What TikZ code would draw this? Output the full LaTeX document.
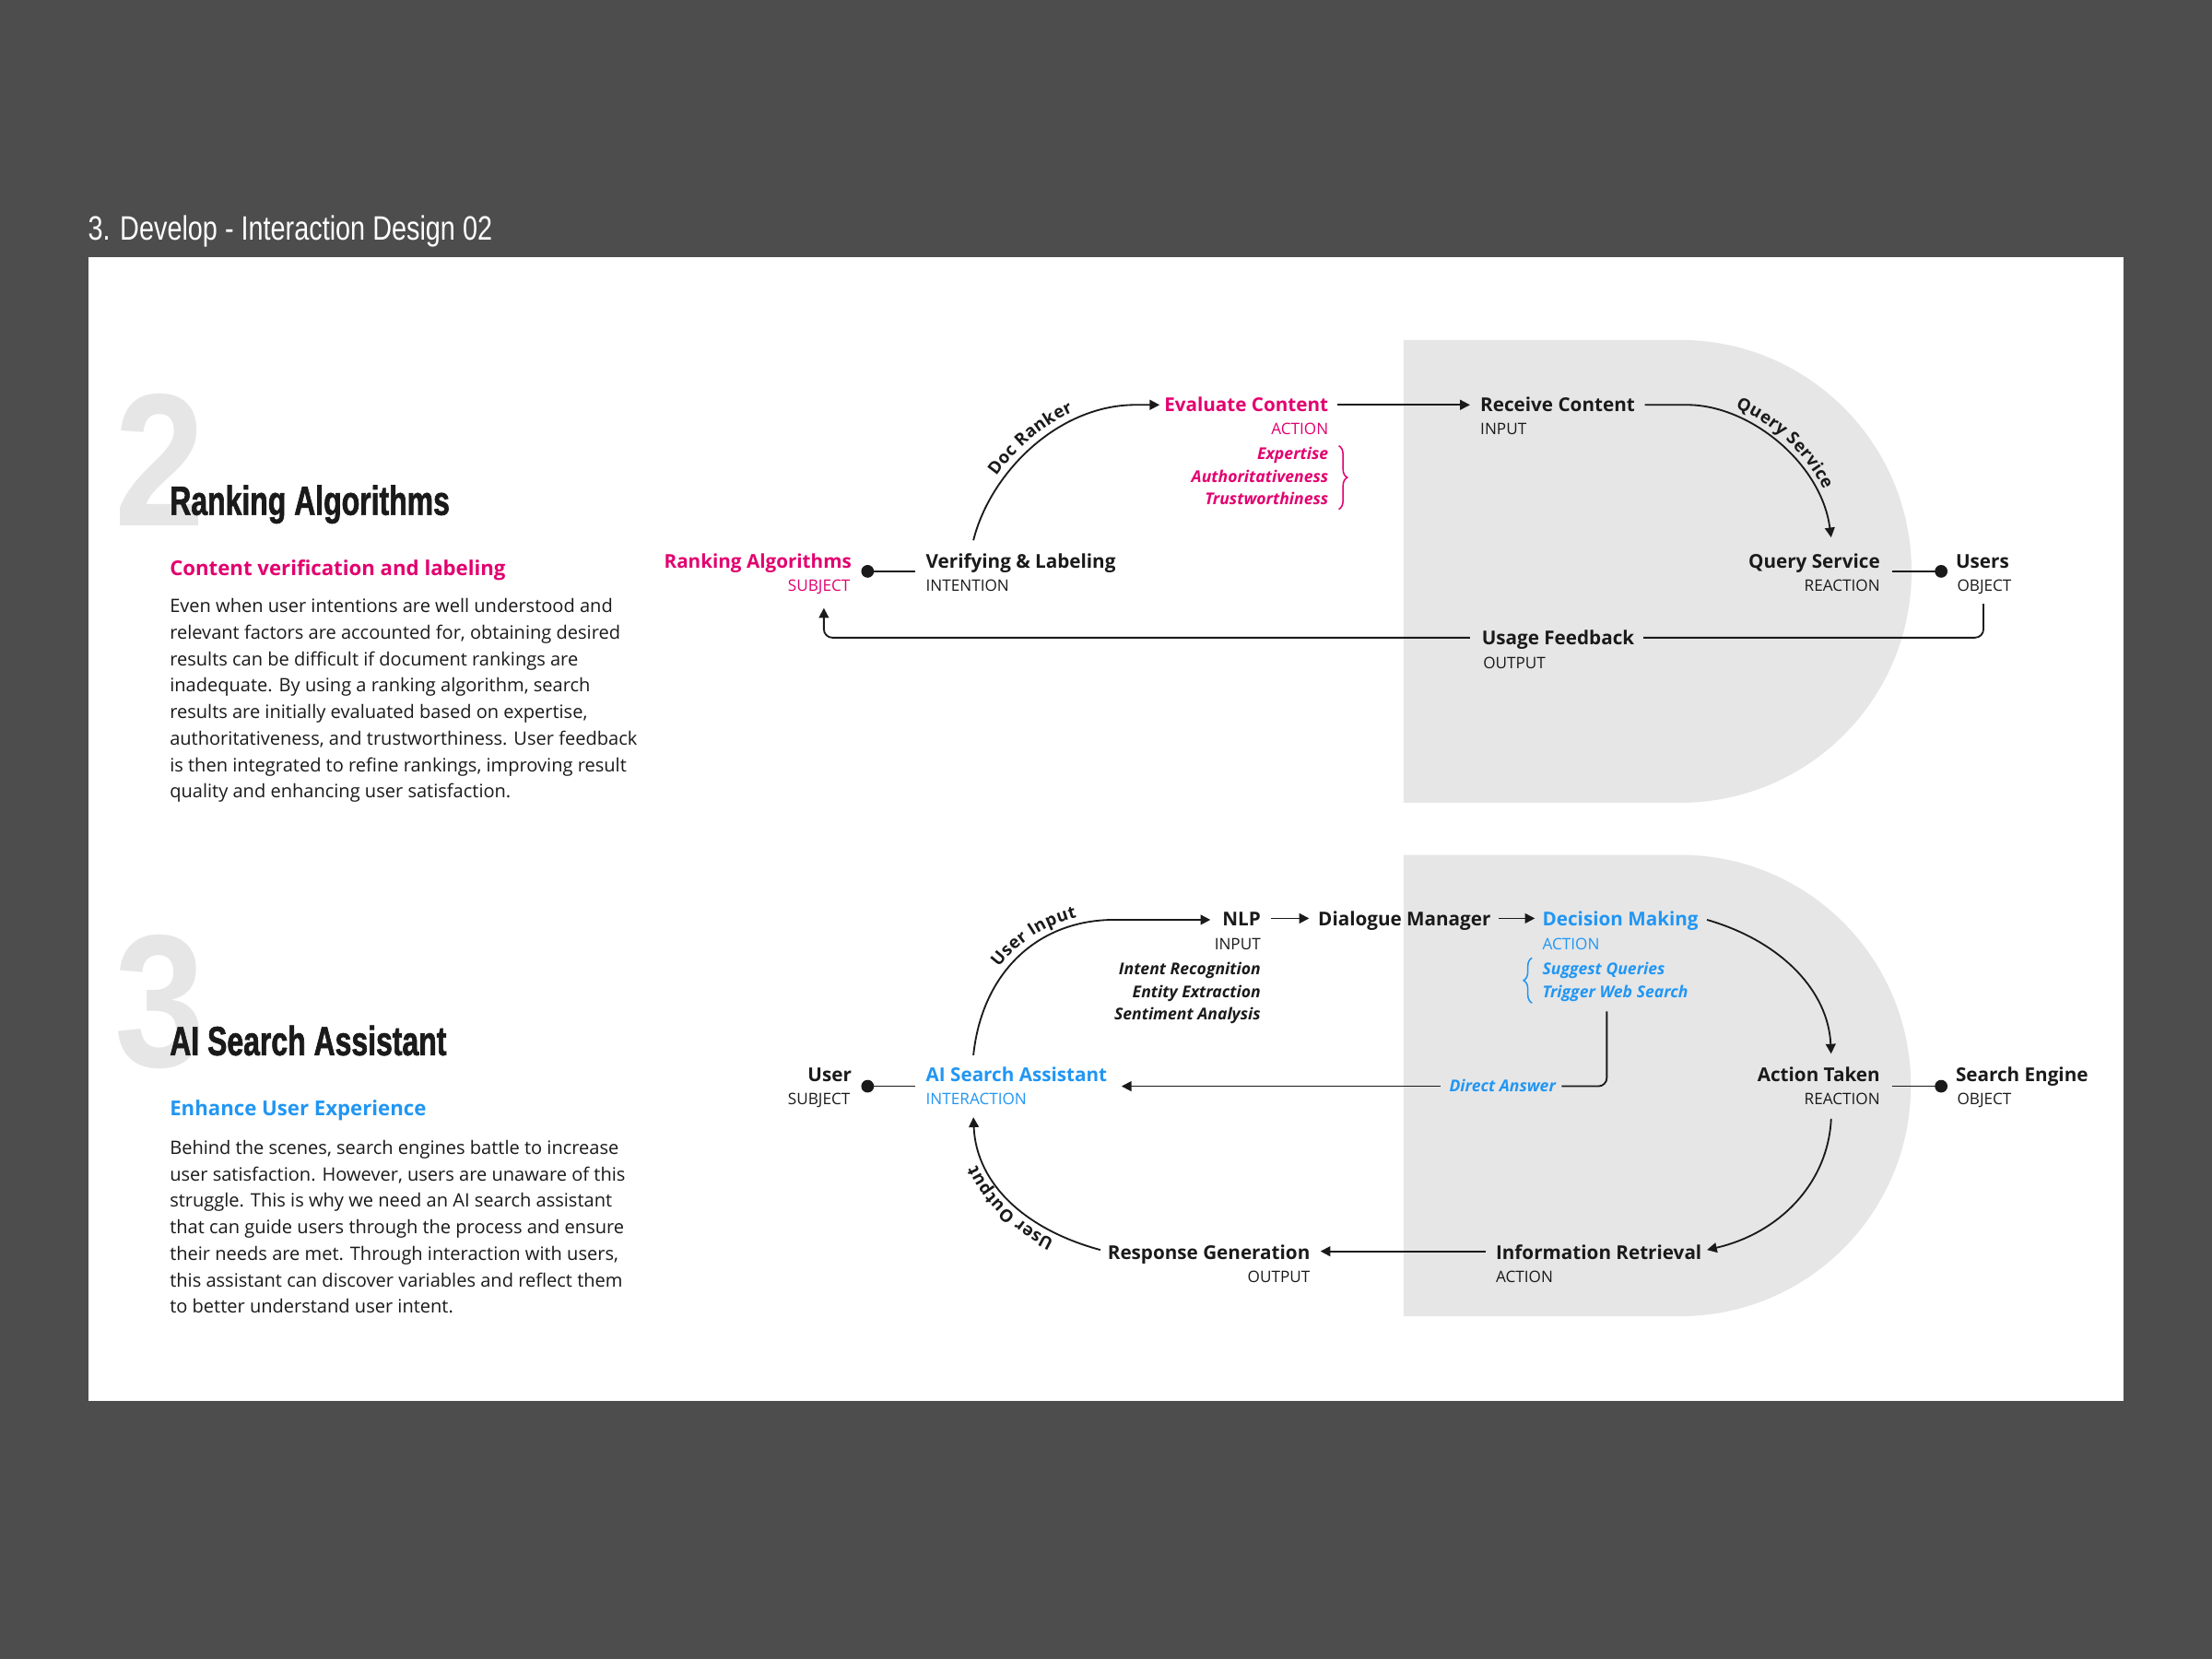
\documentclass[tikz,border=0pt]{standalone}
\usepackage{fontspec}
\setmainfont{Open Sans}
\newfontfamily\condfont{Liberation Sans}[FakeStretch=0.72,BoldFeatures={FakeBold=1.4}]
\newfontfamily\numfont{Liberation Sans}[FakeStretch=0.86]
\newfontfamily\titlefont{Liberation Sans}[FakeStretch=0.785]
\usetikzlibrary{arrows.meta,decorations.pathreplacing,decorations.text}
\definecolor{bgdark}{HTML}{4D4D4D}
\definecolor{dshape}{HTML}{E6E6E6}
\definecolor{mag}{HTML}{E2006F}
\definecolor{skyb}{HTML}{2196F3}
\definecolor{ink}{HTML}{1A1A1A}
\definecolor{numgray}{HTML}{E6E6E6}
\newcommand\curvefont{\fontsize{6.1pt}{7pt}\selectfont\bfseries\color{ink}}
\begin{document}
\begin{tikzpicture}[x=0.5pt,y=-0.5pt,
  lbl/.style={font=\fontsize{6.75pt}{8pt}\selectfont\bfseries, text=ink, inner sep=0pt},
  role/.style={font=\fontsize{5.6pt}{7pt}\selectfont, text=ink, inner sep=0pt},
  itl/.style={font=\fontsize{5.75pt}{7pt}\selectfont\bfseries\itshape, text=ink, inner sep=0pt},
  conn/.style={draw=ink, line width=0.6pt},
  arr/.style={conn, -{Triangle[length=3.5pt,width=3.5pt]}},
  dotnode/.style={circle, fill=ink, inner sep=0pt, minimum size=4.5pt},
  body/.style={font=\fontsize{6.55pt}{9.375pt}\selectfont, text=ink, inner sep=0pt, align=left, anchor=north west},
  subhead/.style={font=\fontsize{7.25pt}{9pt}\selectfont\bfseries, inner sep=0pt, anchor=base west},
  bighead/.style={font=\condfont\fontsize{14.5pt}{17pt}\selectfont\bfseries, text=ink, inner sep=0pt, anchor=base west},
  bignum/.style={font=\numfont\fontsize{67pt}{70pt}\selectfont\bfseries, text=numgray, inner sep=0pt, anchor=base west},
  pathtext/.style 2 args={decorate, decoration={text along path, text={|\curvefont|#1}, text align={center, #2}, raise=2.5pt}}
]
% background
\fill[bgdark] (0,0) rectangle (1568,1176);
\useasboundingbox (0,0) rectangle (1568,1176);
\node[font=\titlefont\fontsize{12pt}{14pt}\selectfont, text=white, inner sep=0pt, anchor=base west] (title) at (62,170) {3. Develop - Interaction Design 02};
\fill[white] (63,182) rectangle (1505,993);

% grey D shapes
\fill[dshape] (995,241) -- (1191,241) arc[start angle=90, end angle=-90, radius=82pt] -- (995,569) -- cycle;
\fill[dshape] (995,606) -- (1191,606) arc[start angle=90, end angle=-90, radius=81.75pt] -- (995,933) -- cycle;

% ---------- section 2 text ----------
\node[bignum] (num2) at (81,373) {2};
\node[bighead] (h2) at (120,365) {Ranking Algorithms};
\node[subhead, text=mag] (s2) at (120,408) {Content verification and labeling};
\node[body] (b2) at (120,424) {Even when user intentions are well understood and\\
relevant factors are accounted for, obtaining desired\\
results can be difficult if document rankings are\\
inadequate. By using a ranking algorithm, search\\
results are initially evaluated based on expertise,\\
authoritativeness, and trustworthiness. User feedback\\
is then integrated to refine rankings, improving result\\
quality and enhancing user satisfaction.};

% ---------- section 3 text ----------
\node[bignum] (num3) at (81,756) {3};
\node[bighead] (h3) at (120,748) {AI Search Assistant};
\node[subhead, text=skyb] (s3) at (120,791) {Enhance User Experience};
\node[body] (b3) at (120,808) {Behind the scenes, search engines battle to increase\\
user satisfaction. However, users are unaware of this\\
struggle. This is why we need an AI search assistant\\
that can guide users through the process and ensure\\
their needs are met. Through interaction with users,\\
this assistant can discover variables and reflect them\\
to better understand user intent.};

% ---------- diagram 2 ----------
\node[lbl, text=mag, anchor=base east] (ra) at (604,403) {Ranking Algorithms};
\node[role, text=mag, anchor=base east] (rar) at (603,419) {SUBJECT};
\node[dotnode] (d1) at (615,405) {};
\node[lbl, anchor=base west] (vl) at (656,403) {Verifying \& Labeling};
\node[role, anchor=base west] (vlr) at (656,419) {INTENTION};
\node[lbl, text=mag, anchor=base east] (ec) at (942,292) {Evaluate Content};
\node[role, text=mag, anchor=base east] (ecr) at (942,308) {ACTION};
\node[itl, text=mag, anchor=base east] (ex1) at (942,326) {Expertise};
\node[itl, text=mag, anchor=base east] (ex2) at (942,342) {Authoritativeness};
\node[itl, text=mag, anchor=base east] (ex3) at (942,358) {Trustworthiness};
\node[lbl, anchor=base west] (rc) at (1049,292) {Receive Content};
\node[role, anchor=base west] (rcr) at (1049,308) {INPUT};
\node[lbl, anchor=base east] (qs) at (1333,403) {Query Service};
\node[role, anchor=base east] (qsr) at (1333,419) {REACTION};
\node[dotnode] (d2) at (1376,405) {};
\node[lbl, anchor=base west] (us) at (1386,403) {Users};
\node[role, anchor=base west] (usr) at (1387,419) {OBJECT};
\node[lbl, anchor=base west] (uf) at (1050,457) {Usage Feedback};
\node[role, anchor=base west] (ufr) at (1051,474) {OUTPUT};

\draw[mag, line width=0.5pt, decorate, decoration={brace, amplitude=3pt}] (949,316) -- (949,361);

\draw[conn] (d1.center) -- (649,405);
\draw[arr] (690,383) .. controls (702,335) and (750,287) .. (805,287) -- (822,287);
\path[pathtext={Doc Ranker}{left indent=2pt}] (690,383) .. controls (702,335) and (750,287) .. (805,287);
\draw[arr] (948,287) -- (1042,287);
\draw[arr] (1166,287) -- (1196,287) .. controls (1240,287) and (1291,328) .. (1298,381);
\path[pathtext={Query Service}{left indent=0pt}] (1196,287) .. controls (1240,287) and (1291,328) .. (1298,381);
\draw[conn] (1341,405) -- (d2.center);
\draw[conn, rounded corners=3pt] (1406,428) -- (1406,452) -- (1165,452);
\draw[arr, rounded corners=3pt] (1042,452) -- (584,452) -- (584,431);

% ---------- diagram 3 ----------
\node[lbl, anchor=base east] (usr3) at (604,767) {User};
\node[role, anchor=base east] (usr3r) at (603,783) {SUBJECT};
\node[dotnode] (d3) at (615,770) {};
\node[lbl, text=skyb, anchor=base west] (ai) at (656,767) {AI Search Assistant};
\node[role, text=skyb, anchor=base west] (air) at (656,783) {INTERACTION};
\node[lbl, anchor=base east] (nlp) at (894,656) {NLP};
\node[role, anchor=base east] (nlpr) at (894,673) {INPUT};
\node[itl, anchor=base east] (in1) at (894,691) {Intent Recognition};
\node[itl, anchor=base east] (in2) at (894,707) {Entity Extraction};
\node[itl, anchor=base east] (in3) at (894,723) {Sentiment Analysis};
\node[lbl, anchor=base west] (dm) at (934,656) {Dialogue Manager};
\node[lbl, text=skyb, anchor=base west] (dec) at (1093,656) {Decision Making};
\node[role, text=skyb, anchor=base west] (decr) at (1093,673) {ACTION};
\node[itl, text=skyb, anchor=base west] (sq) at (1093,691) {Suggest Queries};
\node[itl, text=skyb, anchor=base west] (tw) at (1093,707) {Trigger Web Search};
\node[itl, text=skyb, anchor=base west] (da) at (1027,774) {Direct Answer};
\node[lbl, anchor=base east] (at) at (1333,767) {Action Taken};
\node[role, anchor=base east] (atr) at (1333,783) {REACTION};
\node[dotnode] (d4) at (1376,770) {};
\node[lbl, anchor=base west] (se) at (1386,767) {Search Engine};
\node[role, anchor=base west] (ser) at (1387,783) {OBJECT};
\node[lbl, anchor=base west] (ir) at (1060,893) {Information Retrieval};
\node[role, anchor=base west] (irr) at (1060,909) {ACTION};
\node[lbl, anchor=base east] (rg) at (929,893) {Response Generation};
\node[role, anchor=base east] (rgr) at (929,909) {OUTPUT};

\draw[skyb, line width=0.5pt, decorate, decoration={brace, amplitude=3pt}] (1086,711) -- (1086,679);

\draw[conn] (d3.center) -- (649,770);
\draw[arr] (690,748) .. controls (696,690) and (735,652) .. (790,652) -- (858,652);
\path[pathtext={User Input}{left indent=19pt}] (690,748) .. controls (696,690) and (735,652) .. (790,652);
\draw[arr] (901,651) -- (928,651);
\draw[arr] (1062,651) -- (1088,651);
\draw[arr] (1210,652) .. controls (1262,667) and (1296,702) .. (1298,747);
\draw[conn, rounded corners=3pt] (1139,717) -- (1139,770) -- (1107,770);
\draw[arr] (1021,770) -- (795,770);
\draw[conn] (1341,770) -- (d4.center);
\draw[arr] (1298,793) .. controls (1296,838) and (1262,874) .. (1210,886);
\draw[arr] (1053,887) -- (936,887);
\draw[arr] (780,886) .. controls (728,872) and (692,840) .. (690,792);
\path[pathtext={User Output}{left indent=0pt}] (780,886) .. controls (728,872) and (692,840) .. (690,792);
\end{tikzpicture}
\end{document}
